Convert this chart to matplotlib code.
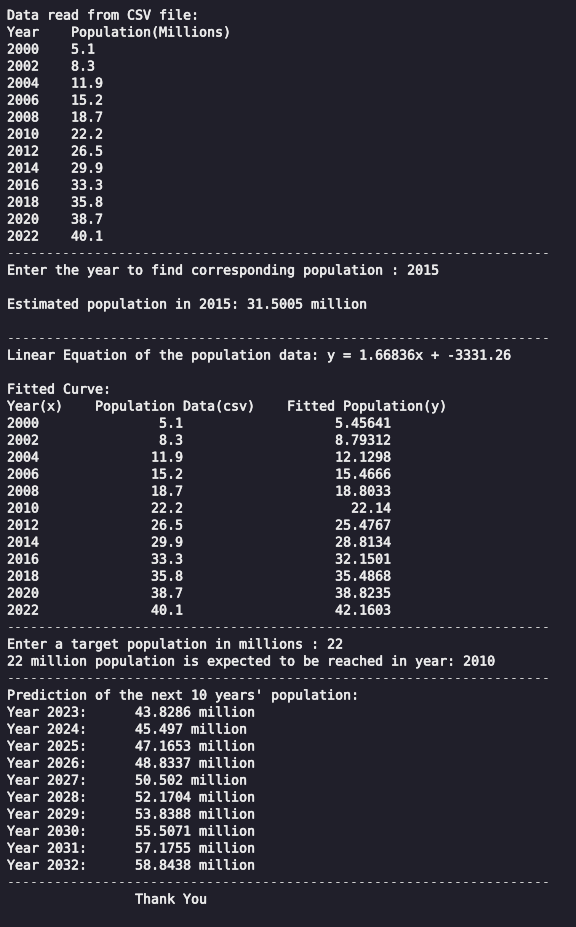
import matplotlib
matplotlib.use("Agg")
import matplotlib.pyplot as plt
import matplotlib.patheffects as pe

# data shown in the console output
years = [2000, 2002, 2004, 2006, 2008, 2010, 2012, 2014, 2016, 2018, 2020, 2022]
population = [5.1, 8.3, 11.9, 15.2, 18.7, 22.2, 26.5, 29.9, 33.3, 35.8, 38.7, 40.1]
fitted = [5.45641, 8.79312, 12.1298, 15.4666, 18.8033, 22.14,
          25.4767, 28.8134, 32.1501, 35.4868, 38.8235, 42.1603]
pred_years = [2023, 2024, 2025, 2026, 2027, 2028, 2029, 2030, 2031, 2032]
pred_values = [43.8286, 45.497, 47.1653, 48.8337, 50.502,
               52.1704, 53.8388, 55.5071, 57.1755, 58.8438]
query_year = 2015
query_estimate = 31.5005
slope = 1.66836
intercept = -3331.26
target_pop = 22
target_year = 2010

bg = '#201f2a'
fg = '#ececec'
dash = '-' * 68

lines = []
lines.append("Data read from CSV file:")
lines.append("Year    Population(Millions)")
for y, p in zip(years, population):
    lines.append(f"{y}    {p:g}")
lines.append(dash)
lines.append(f"Enter the year to find corresponding population : {query_year}")
lines.append("")
lines.append(f"Estimated population in {query_year}: {query_estimate:g} million")
lines.append("")
lines.append(dash)
lines.append(f"Linear Equation of the population data: y = {slope:g}x + {intercept:g}")
lines.append("")
lines.append("Fitted Curve:")
lines.append("Year(x)    Population Data(csv)    Fitted Population(y)")
for y, p, f in zip(years, population, fitted):
    lines.append(f"{y}" + f"{p:g}".rjust(18) + f"{f:g}".rjust(26))
lines.append(dash)
lines.append(f"Enter a target population in millions : {target_pop}")
lines.append(f"{target_pop} million population is expected to be reached in year: {target_year}")
lines.append(dash)
lines.append("Prediction of the next 10 years' population:")
for y, v in zip(pred_years, pred_values):
    lines.append(f"Year {y}:".ljust(16) + f"{v:g} million")
lines.append(dash)
lines.append(" " * 16 + "Thank You")

fig = plt.figure(figsize=(5.76, 9.27), dpi=100, facecolor=bg)
ax = fig.add_axes([0, 0, 1, 1])
ax.set_facecolor(bg)
ax.set_xlim(0, 576)
ax.set_ylim(927, 0)
ax.axis('off')

for i, s in enumerate(lines):
    if not s:
        continue
    if s == dash:
        ax.text(7, 16 + i * 17, s, color='#d8d8d8', fontsize=9.57,
                family='DejaVu Sans Mono', va='center', ha='left')
    else:
        ax.text(7, 16 + i * 17, s, color=fg, fontsize=9.57,
                family='DejaVu Sans Mono', va='center', ha='left',
                path_effects=[pe.withStroke(linewidth=0.4, foreground=fg)])

plt.savefig("out.png", dpi=100, facecolor=bg)
